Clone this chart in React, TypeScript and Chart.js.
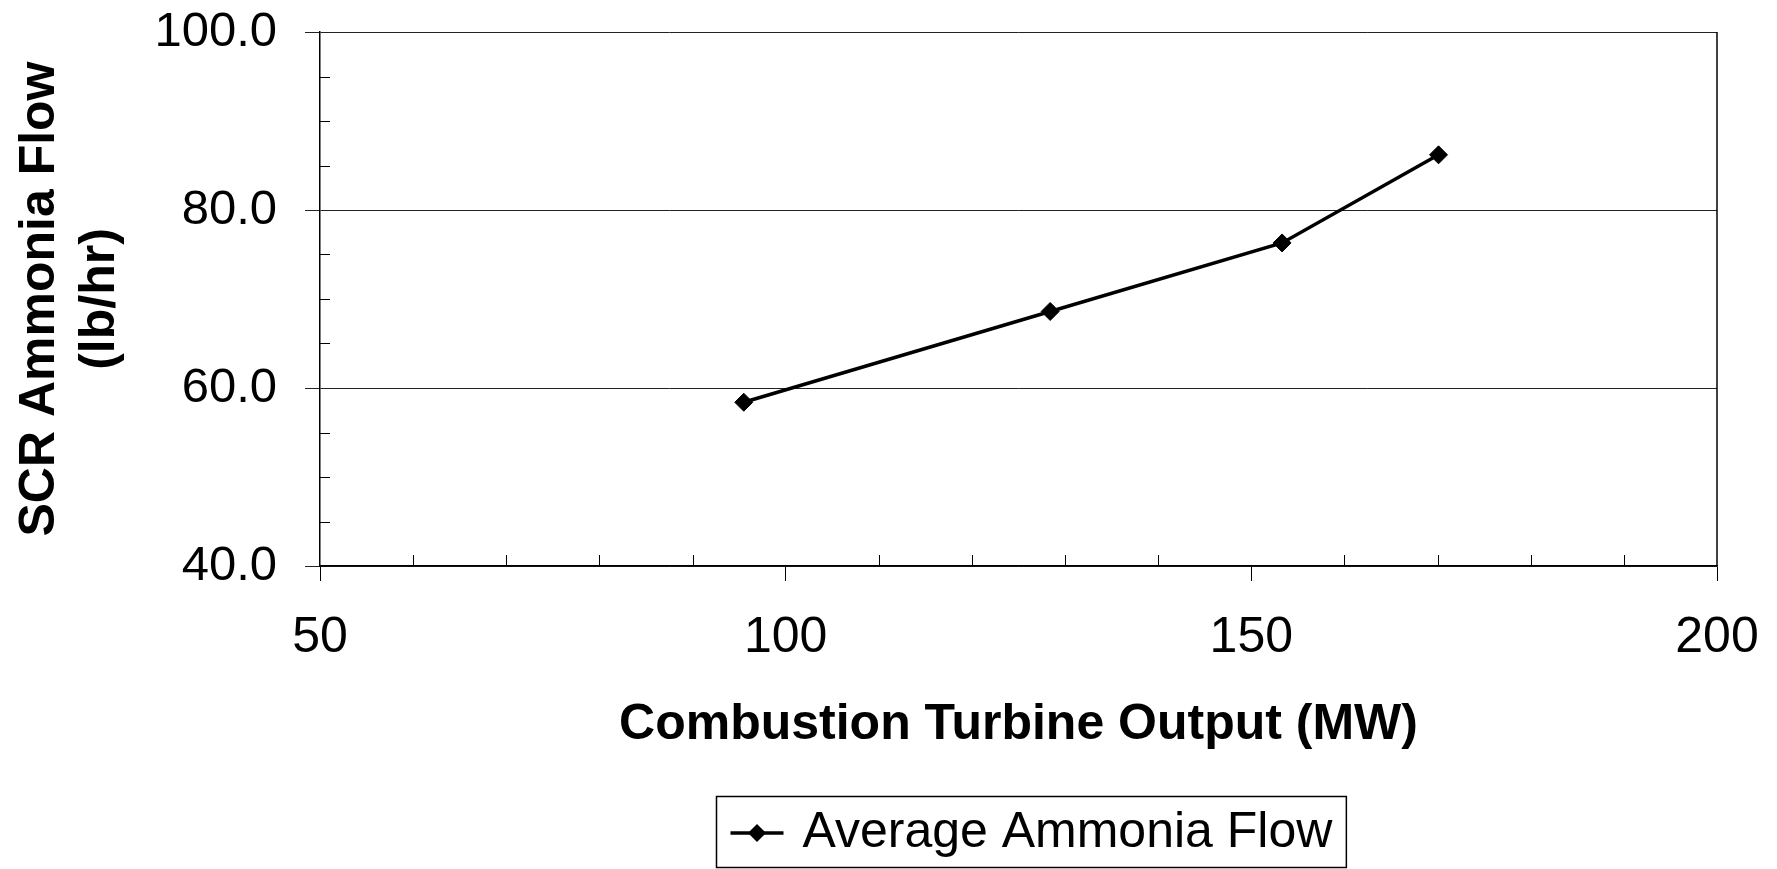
import React, { useEffect, useRef } from "react";
import { Chart, registerables } from "chart.js";

Chart.register(...registerables);

// ---- Data ----
const turbineOutputMW = [95.5, 128.4, 153.3, 170.1];
const ammoniaFlowLbHr = [58.4, 68.6, 76.3, 86.2];
const seriesLabel = "Average Ammonia Flow";
const xAxisTitle = "Combustion Turbine Output (MW)";
const yAxisTitle = ["SCR Ammonia Flow", "(lb/hr)"];
const xRange = [50, 200];
const xMajorStep = 50;
const xMinorStep = 10;
const yRange = [40, 100];
const yMajorStep = 20;
const yMinorStep = 5;

const FONT = "'Liberation Sans', Arial, Helvetica, sans-serif";

const decorPlugin = {
  id: "decor",
  afterDraw(chart: any) {
    const { ctx, chartArea: a, scales } = chart;
    const x = scales.x;
    const y = scales.y;
    ctx.save();
    ctx.strokeStyle = "#000";
    // right frame line
    ctx.lineWidth = 1.5;
    ctx.beginPath();
    ctx.moveTo(a.right, a.top);
    ctx.lineTo(a.right, a.bottom);
    ctx.stroke();
    // minor ticks
    ctx.lineWidth = 1;
    ctx.beginPath();
    for (let v = yRange[0] + yMinorStep; v < yRange[1]; v += yMinorStep) {
      if (v % yMajorStep === 0) continue;
      const py = Math.round(y.getPixelForValue(v)) + 0.5;
      ctx.moveTo(a.left, py);
      ctx.lineTo(a.left + 10, py);
    }
    for (let v = xRange[0] + xMinorStep; v < xRange[1]; v += xMinorStep) {
      if (v % xMajorStep === 0) continue;
      const px = Math.round(x.getPixelForValue(v)) + 0.5;
      ctx.moveTo(px, a.bottom);
      ctx.lineTo(px, a.bottom - 11);
    }
    ctx.stroke();

    // legend with border
    const ds = chart.data.datasets[0];
    ctx.font = `50px ${FONT}`;
    const tw = ctx.measureText(ds.label).width;
    const padL = 14, lineLen = 53, gap = 19, padR = 14;
    const boxW = padL + lineLen + gap + tw + padR;
    const boxH = 71;
    const cx = 1030.5;
    const left = Math.round(cx - boxW / 2) + 0.5;
    const top = 796.5;
    ctx.lineWidth = 1.5;
    ctx.strokeRect(left, top, boxW, boxH);
    const my = top + boxH / 2 + 1;
    ctx.lineWidth = 3.5;
    ctx.beginPath();
    ctx.moveTo(left + padL, my);
    ctx.lineTo(left + padL + lineLen, my);
    ctx.stroke();
    const dx = left + padL + lineLen / 2;
    ctx.fillStyle = "#000";
    ctx.beginPath();
    ctx.moveTo(dx, my - 9);
    ctx.lineTo(dx + 9, my);
    ctx.lineTo(dx, my + 9);
    ctx.lineTo(dx - 9, my);
    ctx.closePath();
    ctx.fill();
    ctx.textAlign = "left";
    ctx.textBaseline = "middle";
    ctx.fillText(ds.label, left + padL + lineLen + gap, my);
    ctx.restore();
  },
};

export default function App() {
  const ref = useRef<HTMLCanvasElement | null>(null);

  useEffect(() => {
    document.body.style.margin = "0";
    const canvas = ref.current;
    if (!canvas) return;
    const chart = new Chart(canvas, {
      type: "line",
      data: {
        datasets: [
          {
            label: seriesLabel,
            data: turbineOutputMW.map((xv, i) => ({ x: xv, y: ammoniaFlowLbHr[i] })),
            borderColor: "#000",
            backgroundColor: "#000",
            borderWidth: 3.5,
            pointStyle: "rectRot",
            pointRadius: 9,
            pointBackgroundColor: "#000",
            pointBorderColor: "#000",
            pointBorderWidth: 1,
            tension: 0,
            fill: false,
          },
        ],
      },
      options: {
        responsive: false,
        animation: false,
        events: [],
        layout: { padding: { top: 32, right: 60, bottom: 78, left: 0 } },
        plugins: {
          legend: { display: false },
          tooltip: { enabled: false },
        },
        scales: {
          x: {
            type: "linear",
            min: xRange[0],
            max: xRange[1],
            afterFit: (s: any) => {
              s.height = 225;
              s.paddingLeft = 0;
              s.paddingRight = 0;
            },
            ticks: {
              stepSize: xMajorStep,
              color: "#000",
              padding: 27,
              maxRotation: 0,
              font: { family: FONT, size: 50 },
            },
            grid: {
              drawOnChartArea: false,
              drawTicks: true,
              tickLength: 15,
              color: "#000",
              lineWidth: 1,
            },
            border: { display: true, color: "#000", width: 1.5 },
            title: {
              display: true,
              text: xAxisTitle,
              color: "#000",
              font: { family: FONT, size: 50, weight: "bold" },
              padding: { top: 0, bottom: 36 },
            },
          },
          y: {
            type: "linear",
            min: yRange[0],
            max: yRange[1],
            afterFit: (s: any) => {
              s.width = 320;
              s.paddingTop = 0;
              s.paddingBottom = 0;
            },
            ticks: {
              stepSize: yMajorStep,
              color: "#000",
              padding: 28,
              font: { family: FONT, size: 49 },
              callback: (v: any) => Number(v).toFixed(1),
            },
            grid: {
              drawOnChartArea: true,
              drawTicks: true,
              tickLength: 15,
              color: "#222",
              lineWidth: 1,
            },
            border: { display: true, color: "#000", width: 1.5 },
            title: {
              display: true,
              text: yAxisTitle,
              color: "#000",
              font: { family: FONT, size: 50, weight: "bold" },
              padding: { top: 10, bottom: 0 },
            },
          },
        },
      },
      plugins: [decorPlugin],
    });
    return () => chart.destroy();
  }, []);

  return (
    <div style={{ width: 1777, height: 869, background: "#fff" }}>
      <canvas ref={ref} width={1777} height={869} style={{ display: "block" }} />
    </div>
  );
}
